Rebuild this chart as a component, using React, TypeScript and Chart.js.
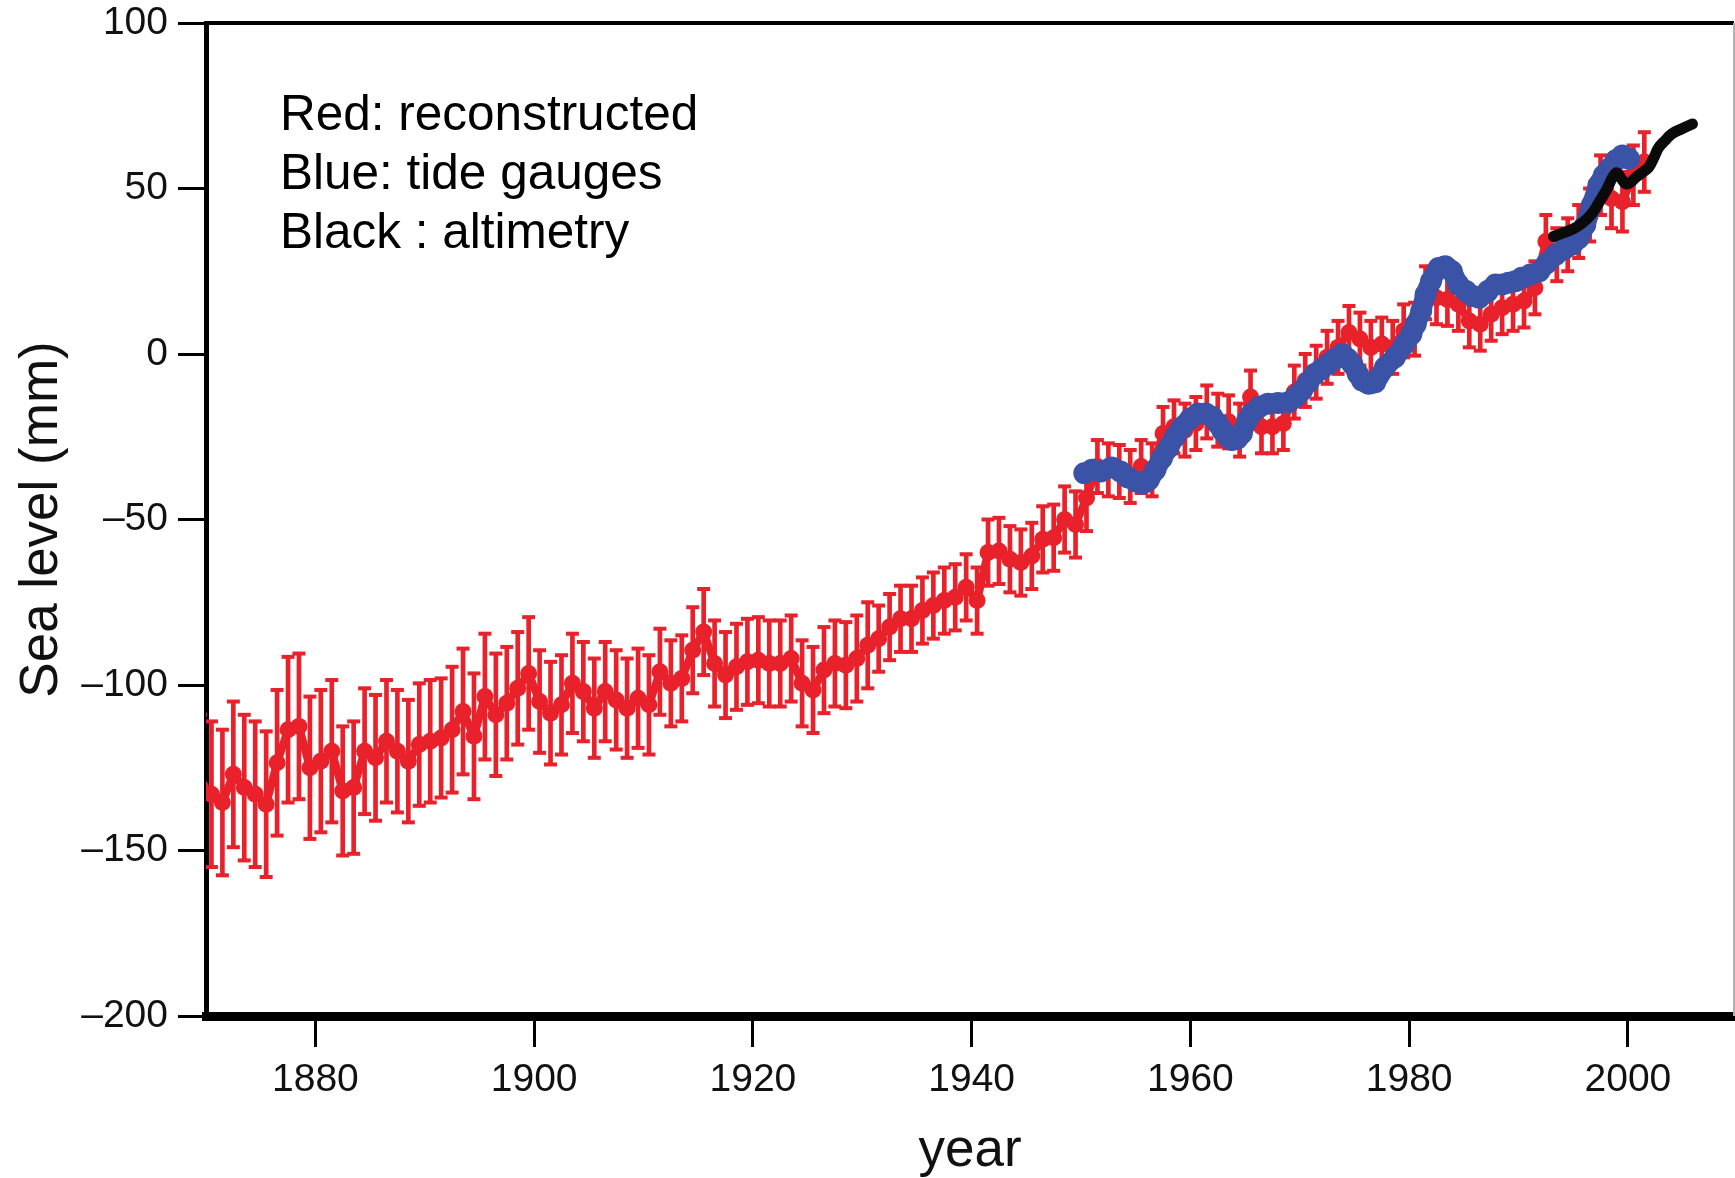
import React, { useEffect, useRef } from "react";
import { Chart, registerables } from "chart.js";

Chart.register(...registerables);

const FONT = "'Liberation Sans', Arial, Helvetica, sans-serif";

// Reconstructed sea level (red), one value per year starting at 1869 (plotted at mid-year)
const redFirstYear = 1869;
const redValues = [
  -131, -133, -135.5, -127, -131, -133, -136, -123.5, -113.5, -112.5,
  -125, -123, -120, -132, -131, -120, -122, -117, -120, -123,
  -118, -117, -116, -113.5, -108, -115.5, -103.5, -109, -105.5, -101,
  -96.5, -105, -108.5, -106, -99.5, -102, -107, -102, -104.5, -107,
  -104, -106, -96, -99.5, -98, -89.5, -84, -93.5, -97, -94.5,
  -93, -92.5, -93.5, -93.5, -92, -99.5, -101.5, -95.5, -93.5, -94,
  -92, -88, -86, -82.5, -80, -80, -77.5, -76, -74.5, -73.5,
  -70.5, -74.5, -60, -59.5, -62, -63, -61, -56, -55.5, -50,
  -51.5, -43.5, -34, -35, -35.5, -37, -34, -35, -24, -22,
  -23, -21, -17.5, -20, -20.5, -23, -13, -22, -22, -21,
  -11.5, -8, -5.5, -1, 2, 6.5, 4.5, 2, 3, 2,
  7, 7.5, 18.5, 17, 16.5, 15, 10, 9, 12, 14,
  15, 16, 20, 34, 30, 33, 37, 42, 51, 47,
  46, 54, 58,
];
// Half-length of each red error bar (mm)
const redErrors = [
  22, 22, 22, 22, 22, 22, 22, 22, 22, 22,
  21.5, 21.5, 21.5, 19.5, 20, 19, 19, 18.5, 18.5, 18.5,
  18.5, 18.5, 18, 19, 19, 19, 19, 18.5, 17, 17,
  17, 15.5, 15.5, 15, 15, 15, 15, 15, 15, 15,
  15, 15, 13, 13, 13, 13, 13, 13, 13, 13,
  13, 13, 13, 13, 13, 13, 13, 13, 13, 13,
  13, 13, 10, 10, 10, 10, 10, 10, 10, 10,
  10, 10, 10, 10, 10, 10, 10, 10, 10, 10,
  10, 10, 8, 8, 8, 8, 8, 8, 8, 8,
  8, 8, 8, 8, 8, 8, 8, 8, 8, 8,
  8, 8, 8, 8, 8, 8, 8, 8, 8, 8,
  8, 8, 8, 8, 8, 8, 8, 8, 8, 8,
  8, 8, 8, 8, 8, 8, 8, 8, 9, 9,
  9, 9, 9,
];

// Tide gauges (blue)
const blueYears = [
  1950.3, 1951.0, 1951.8, 1952.8, 1953.6, 1954.3, 1955.0, 1955.6, 1956.2, 1956.8,
  1957.4, 1958.0, 1958.6, 1959.2, 1960.0, 1960.7, 1961.4, 1962.0, 1962.5, 1962.9,
  1963.4, 1963.8, 1964.3, 1964.7, 1965.2, 1965.6, 1966.3, 1967.1, 1968.0, 1969.0,
  1969.6, 1970.2, 1970.8, 1971.4, 1972.0, 1972.6, 1973.2, 1973.9, 1974.4, 1974.8,
  1975.3, 1975.7, 1976.3, 1976.9, 1977.8, 1978.7, 1979.6, 1980.2, 1980.6, 1981.1,
  1981.5, 1982.0, 1982.7, 1983.3, 1983.9, 1984.5, 1985.2, 1985.8, 1986.4, 1987.2,
  1987.9, 1988.5, 1989.1, 1989.7, 1990.3, 1991.1, 1991.9, 1992.6, 1993.4, 1994.1,
  1994.9, 1995.5, 1996.1, 1996.7, 1997.3, 1997.8, 1998.3, 1998.9, 1999.5, 2000.1,
];
const blueValues = [
  -36, -35, -35.5, -34.3, -35.5, -37.3, -38.5, -39.2, -38, -35,
  -31.5, -28.3, -25, -22.2, -19.5, -18, -18, -19, -21, -23,
  -25, -26, -25.5, -24, -20, -18, -16, -15, -14.8, -14.5,
  -13, -11, -8.5, -6, -4.5, -3, -1.5, 0, -1.5, -3,
  -6, -8, -9, -8.5, -4, -1, 3, 6, 9, 13,
  18, 22, 26, 26.5, 25, 21, 19, 17.5, 17, 19,
  21, 21, 21.5, 22, 23, 24, 25, 27.5, 30, 31.5,
  33, 35, 39, 45, 51, 54, 56, 58.5, 60, 59,
];

// Satellite altimetry (black)
const blackYears = [
  1993.2, 1994.0, 1995.0, 1995.8, 1996.7, 1997.4, 1998.0, 1998.9, 1999.4, 1999.8,
  2000.3, 2000.7, 2001.3, 2001.9, 2002.4, 2002.8, 2003.4, 2004.0, 2004.9, 2005.9,
];
const blackValues = [
  35.5, 36.5, 37.8, 39.5, 42.4, 46, 49.3, 54.7, 53, 51.4,
  52, 53.3, 54.8, 56.4, 59.5, 62.3, 64.5, 66.5, 68, 69.5,
];

const xTickValues = [1880, 1900, 1920, 1940, 1960, 1980, 2000];
const yTickValues = [-200, -150, -100, -50, 0, 50, 100];
const noteLines = ["Red: reconstructed", "Blue: tide gauges", "Black : altimetry"];

const RED = "#e8212a";
const BLUE = "#3b53a6";
const BLACK = "#0a0a0a";

const framePlugin = {
  id: "frameAndNote",
  afterDraw(chart: any) {
    const { ctx, chartArea: a } = chart;
    ctx.save();
    ctx.strokeStyle = "#000";
    ctx.lineWidth = 4;
    ctx.beginPath();
    ctx.moveTo(a.left - 2, a.top);
    ctx.lineTo(a.right, a.top);
    ctx.stroke();
    ctx.strokeStyle = "#b0b0b0";
    ctx.lineWidth = 2;
    ctx.beginPath();
    ctx.moveTo(a.right, a.top);
    ctx.lineTo(a.right, a.bottom);
    ctx.stroke();
    ctx.fillStyle = "#000";
    ctx.font = `49.5px ${FONT}`;
    ctx.textBaseline = "alphabetic";
    ctx.textAlign = "left";
    noteLines.forEach((t, i) => ctx.fillText(t, 280, 130 + i * 59));
    ctx.restore();
  },
};

const fmtY = (v: number) => (v < 0 ? "\u2013" + Math.abs(v) : String(v));

export default function App() {
  const ref = useRef<HTMLCanvasElement | null>(null);

  useEffect(() => {
    document.body.style.margin = "0";
    document.body.style.overflow = "hidden";
    const canvas = ref.current;
    if (!canvas) return;

    const redPts = redValues.map((v, i) => ({ x: redFirstYear + 0.5 + i, y: v }));
    const stemPts = redValues.map((v, i) => ({
      x: redFirstYear + 0.5 + i,
      y: [v - redErrors[i], v + redErrors[i]],
    }));
    const capPts = redValues.flatMap((v, i) => [
      { x: redFirstYear + 0.5 + i, y: v - redErrors[i] },
      { x: redFirstYear + 0.5 + i, y: v + redErrors[i] },
    ]);
    const bluePts = blueYears.map((x, i) => ({ x, y: blueValues[i] }));
    const blackPts = blackYears.map((x, i) => ({ x, y: blackValues[i] }));

    const chart = new Chart(canvas, {
      type: "scatter",
      data: {
        datasets: [
          {
            type: "bar",
            label: "red error",
            data: stemPts as any,
            backgroundColor: RED,
            borderWidth: 0,
            barThickness: 4,
            grouped: false,
            order: 6,
          } as any,
          {
            type: "scatter",
            label: "red caps",
            data: capPts,
            pointStyle: "line",
            pointRadius: 6.5,
            pointBorderWidth: 4,
            pointBorderColor: RED,
            pointBackgroundColor: RED,
            showLine: false,
            order: 5,
          } as any,
          {
            type: "line",
            label: "Red: reconstructed",
            data: redPts,
            borderColor: RED,
            borderWidth: 8,
            pointRadius: 8.5,
            pointBackgroundColor: RED,
            pointBorderWidth: 0,
            tension: 0,
            order: 4,
          } as any,
          {
            type: "line",
            label: "Blue: tide gauges",
            data: bluePts,
            borderColor: BLUE,
            borderWidth: 20,
            borderCapStyle: "round",
            borderJoinStyle: "round",
            pointRadius: 11,
            pointBackgroundColor: BLUE,
            pointBorderWidth: 0,
            tension: 0.3,
            order: 2,
          } as any,
          {
            type: "line",
            label: "Black : altimetry",
            data: blackPts,
            borderColor: BLACK,
            borderWidth: 11,
            borderCapStyle: "round",
            borderJoinStyle: "round",
            pointRadius: 0,
            tension: 0.4,
            order: 1,
          } as any,
        ],
      },
      options: {
        animation: false,
        responsive: false,
        events: [],
        layout: { autoPadding: false, padding: { top: 23, right: 1, left: 0, bottom: 0 } },
        plugins: { legend: { display: false }, tooltip: { enabled: false } },
        scales: {
          x: {
            type: "linear",
            min: 1870,
            max: 2009.7,
            offset: false,
            afterBuildTicks: (s: any) => {
              s.ticks = xTickValues.map((v) => ({ value: v }));
            },
            afterFit: (s: any) => {
              s.height = 162;
              s.paddingLeft = 0;
              s.paddingRight = 0;
            },
            border: { display: true, color: "#000", width: 9 },
            grid: {
              display: true,
              offset: false,
              drawOnChartArea: false,
              drawTicks: true,
              tickLength: 31,
              tickWidth: 3,
              tickColor: "#000",
            },
            ticks: {
              font: { family: FONT, size: 39 },
              color: "#111",
              padding: 10,
              maxRotation: 0,
              autoSkip: false,
              callback: (v: any) => String(v),
            },
            title: {
              display: true,
              text: "year",
              font: { family: FONT, size: 53, lineHeight: 1.0 },
              color: "#111",
              padding: { top: 0, bottom: 0 },
            },
          },
          y: {
            type: "linear",
            min: -200,
            max: 100,
            offset: false,
            afterBuildTicks: (s: any) => {
              s.ticks = yTickValues.map((v) => ({ value: v }));
            },
            afterFit: (s: any) => {
              s.width = 206;
              s.paddingTop = 0;
              s.paddingBottom = 0;
            },
            border: { display: true, color: "#000", width: 5 },
            grid: {
              display: true,
              offset: false,
              drawOnChartArea: false,
              drawTicks: true,
              tickLength: 28,
              tickWidth: 3,
              tickColor: "#000",
            },
            ticks: {
              font: { family: FONT, size: 39 },
              color: "#111",
              padding: 10,
              autoSkip: false,
              callback: (v: any) => fmtY(Number(v)),
            },
            title: {
              display: true,
              text: "Sea level (mm)",
              font: { family: FONT, size: 53 },
              color: "#111",
              padding: { top: 11, bottom: 0 },
            },
          },
        },
      } as any,
      plugins: [framePlugin],
    });

    return () => chart.destroy();
  }, []);

  return (
    <div style={{ width: 1735, height: 1178, position: "relative", background: "#fff" }}>
      <canvas ref={ref} width={1735} height={1178} style={{ width: 1735, height: 1178, display: "block" }} />
    </div>
  );
}
